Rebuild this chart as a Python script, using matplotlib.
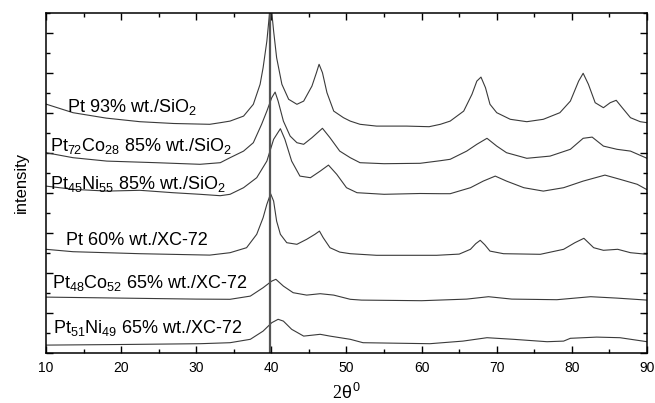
import matplotlib
matplotlib.use("Agg")
import matplotlib.pyplot as plt
from matplotlib.ticker import MultipleLocator

plt.rcParams['font.family'] = ['Liberation Sans', 'DejaVu Sans']
plt.rcParams['mathtext.fontset'] = 'custom'
plt.rcParams['mathtext.rm'] = 'Liberation Sans'
plt.rcParams['mathtext.it'] = 'Liberation Sans'

# 2theta / intensity (stacked, arbitrary units)
tt_pt_sio2 = [10, 13.6, 18, 22.5, 27, 31.8, 33.2, 34.5, 36.3, 37.6, 38.5, 38.9, 39.4, 39.7,
              39.9, 40.3, 40.7, 41.4, 42.3, 43.4, 44.3, 45.4, 46.0, 46.35, 46.8, 47.4, 48.3,
              49.6, 50.5, 51.8, 54, 58, 61, 62.5, 63.8, 65.6, 66.7, 67.35, 67.9, 68.5, 69.1,
              70.0, 71.8, 74.0, 76.2, 78.4, 79.8, 80.9, 81.5, 82.2, 83.1, 84.2, 85.1, 85.9,
              86.7, 87.8, 89.1, 90]
i_pt_sio2 = [12.43, 12.0, 11.73, 11.55, 11.46, 11.42, 11.5, 11.58, 11.83, 12.42, 13.42, 14.25, 15.58, 16.75,
             17.6, 16.08, 14.75, 13.42, 12.67, 12.42, 12.58, 13.33, 14.0, 14.42, 14.0, 13.0, 12.08,
             11.75, 11.58, 11.42, 11.33, 11.33, 11.3, 11.42, 11.58, 12.08, 12.92, 13.58, 13.78, 13.25, 12.42,
             12.0, 11.67, 11.55, 11.67, 12.0, 12.58, 13.58, 13.97, 13.42, 12.5, 12.25, 12.5, 12.62,
             12.25, 11.75, 11.55, 11.5]

tt_ptco_sio2 = [10, 13.6, 18.1, 24.7, 30.5, 33.2, 34.5, 36.3, 37.6, 38.7, 39.4, 40.05, 40.5,
                40.9, 41.6, 42.5, 43.4, 44.3, 45.4, 46.8, 47.8, 49.1, 50.5, 51.8, 55, 59.8,
                62.5, 63.8, 66.0, 67.35, 68.7, 70.0, 71.3, 74.0, 77.1, 79.8, 81.5, 82.7, 84.2,
                86.0, 87.8, 90]
i_ptco_sio2 = [10.0, 9.75, 9.58, 9.5, 9.42, 9.5, 9.75, 10.08, 10.5, 11.42, 12.08, 12.75, 13.03,
               12.58, 11.58, 10.83, 10.5, 10.42, 10.75, 11.22, 10.75, 10.08, 9.75, 9.5, 9.45, 9.47,
               9.6, 9.67, 10.08, 10.42, 10.72, 10.33, 10.0, 9.72, 9.83, 10.17, 10.72, 10.78, 10.33,
               10.17, 10.08, 9.72]

tt_ptni_sio2 = [10, 13.6, 18.1, 22.5, 26.9, 30.5, 33.2, 34.5, 36.3, 38.05, 39.4, 40.3, 41.2,
                41.8, 42.7, 43.8, 45.2, 46.5, 47.6, 48.7, 50.0, 51.4, 55, 59.8, 62.5, 63.8,
                66.5, 68.2, 69.8, 71.3, 73.6, 76.2, 78.9, 81.5, 84.4, 86.4, 88.7, 90]
i_ptni_sio2 = [8.33, 8.17, 8.08, 8.12, 8.0, 7.92, 7.85, 7.92, 8.25, 8.75, 9.58, 10.67, 11.2,
               10.67, 9.58, 8.83, 8.75, 9.08, 9.38, 8.92, 8.25, 8.0, 7.92, 7.96, 7.95, 7.95,
               8.25, 8.58, 8.83, 8.58, 8.25, 8.08, 8.25, 8.58, 8.88, 8.67, 8.42, 8.15]

tt_pt_xc = [10, 13.6, 22.5, 31.8, 34.5, 36.7, 38.05, 38.9, 39.4, 39.9, 40.3, 40.7, 41.2, 42.05,
            43.4, 44.7, 45.8, 46.4, 46.9, 47.8, 49.1, 50.5, 54, 62, 65, 66.5, 67.2, 67.8, 68.4,
            69.1, 70.9, 75.8, 78.9, 80.4, 81.6, 82.9, 84.2, 86.1, 87.8, 90]
i_pt_xc = [5.17, 5.05, 4.95, 4.88, 5.0, 5.25, 5.92, 6.75, 7.42, 7.95, 7.58, 6.58, 5.92, 5.5,
           5.42, 5.67, 5.92, 6.08, 5.75, 5.25, 5.03, 4.95, 4.87, 4.87, 4.93, 5.17, 5.45, 5.62, 5.4,
           5.08, 4.95, 4.92, 5.17, 5.5, 5.72, 5.25, 5.12, 5.17, 5.0, 4.92]

tt_ptco_xc = [10, 20, 30, 34.5, 37.2, 38.9, 40.05, 40.6, 41.6, 42.9, 44.7, 46.5, 48.3, 50.5,
              52, 60, 66, 68.9, 72, 78, 82.5, 86, 90]
i_ptco_xc = [2.78, 2.73, 2.68, 2.67, 2.83, 3.25, 3.58, 3.67, 3.33, 3.0, 2.88, 2.95, 2.88, 2.67,
             2.63, 2.6, 2.68, 2.8, 2.68, 2.65, 2.8, 2.73, 2.63]

tt_ptni_xc = [10, 20, 30.5, 34.5, 37.2, 38.9, 40.05, 40.9, 41.6, 42.7, 44.3, 46.5, 47.8, 50.5,
              52.2, 61.1, 65.5, 68.7, 72.2, 76.7, 78.9, 79.8, 83.3, 86.4, 90]
i_ptni_xc = [0.38, 0.41, 0.45, 0.5, 0.67, 1.08, 1.5, 1.67, 1.58, 1.17, 0.83, 0.92, 0.83, 0.67,
             0.5, 0.45, 0.58, 0.75, 0.67, 0.55, 0.58, 0.72, 0.78, 0.75, 0.55]

labels = ["Pt 93% wt./SiO$_2$",
          "Pt$_{72}$Co$_{28}$ 85% wt./SiO$_2$",
          "Pt$_{45}$Ni$_{55}$ 85% wt./SiO$_2$",
          "Pt 60% wt./XC-72",
          "Pt$_{48}$Co$_{52}$ 65% wt./XC-72",
          "Pt$_{51}$Ni$_{49}$ 65% wt./XC-72"]
label_x = [12.8, 10.6, 10.6, 12.6, 10.8, 11.0]
label_y = [12.3, 10.35, 8.45, 5.6, 3.5, 1.25]

pt_111 = 39.76

fig = plt.figure(figsize=(6.55, 4.03), dpi=100)
ax = fig.add_axes([0.0702, 0.1248, 0.9176, 0.8437])

curves = [(tt_pt_sio2, i_pt_sio2), (tt_ptco_sio2, i_ptco_sio2), (tt_ptni_sio2, i_ptni_sio2),
          (tt_pt_xc, i_pt_xc), (tt_ptco_xc, i_ptco_xc), (tt_ptni_xc, i_ptni_xc)]
for (tt, ii), lab, lx, ly in zip(curves, labels, label_x, label_y):
    ax.plot(tt, ii, color='#3a3a3a', lw=0.8, solid_joinstyle='round')
    ax.text(lx, ly, lab, fontsize=13, va='center', ha='left')

ax.axvline(pt_111, color='#555555', lw=1.6)

ax.set_xlim(10, 90)
ax.set_ylim(0, 17)
ax.xaxis.set_major_locator(MultipleLocator(10))
ax.xaxis.set_minor_locator(MultipleLocator(5))
ax.yaxis.set_major_locator(MultipleLocator(2))
ax.yaxis.set_minor_locator(MultipleLocator(1))
ax.tick_params(which='both', direction='in', top=True, right=True, labelleft=False,
               labelsize=10, width=1, pad=6)
ax.tick_params(which='major', length=5)
ax.tick_params(which='minor', length=3)
for s in ax.spines.values():
    s.set_linewidth(1.1)

ax.set_xlabel(r"2$\theta^0$", fontsize=13, family='Liberation Serif', labelpad=6)
ax.set_ylabel("intensity", fontsize=12, labelpad=12)

fig.savefig("out.png", dpi=100)
